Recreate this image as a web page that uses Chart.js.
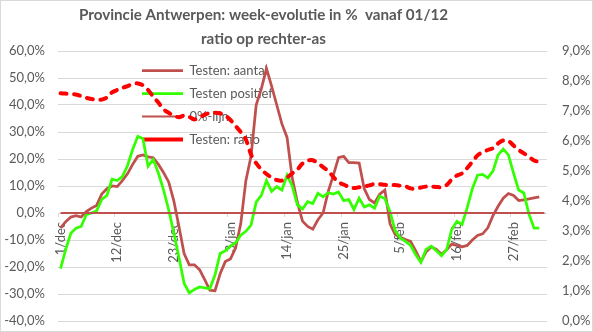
<!DOCTYPE html>
<html>
<head>
<meta charset="utf-8">
<script src="https://cdn.jsdelivr.net/npm/chart.js@4.4.1/dist/chart.umd.min.js"></script>
<style>
html,body{margin:0;padding:0;background:#ffffff;}
</style>
</head>
<body>
<canvas id="c" width="593" height="332"></canvas>
<script>
const titleLines = ["Provincie Antwerpen: week-evolutie in %  vanaf 01/12", "ratio op rechter-as"];
const seriesNames = ["Testen: aantal", "Testen positief", "0%-lijn", "Testen: ratio"];

const categories = [
"1/dec","2/dec","3/dec","4/dec","5/dec","6/dec","7/dec","8/dec","9/dec","10/dec","11/dec","12/dec","13/dec","14/dec","15/dec","16/dec","17/dec","18/dec","19/dec","20/dec","21/dec","22/dec","23/dec","24/dec","25/dec","26/dec","27/dec","28/dec","29/dec","30/dec","31/dec",
"1/jan","2/jan","3/jan","4/jan","5/jan","6/jan","7/jan","8/jan","9/jan","10/jan","11/jan","12/jan","13/jan","14/jan","15/jan","16/jan","17/jan","18/jan","19/jan","20/jan","21/jan","22/jan","23/jan","24/jan","25/jan","26/jan","27/jan","28/jan","29/jan","30/jan","31/jan",
"1/feb","2/feb","3/feb","4/feb","5/feb","6/feb","7/feb","8/feb","9/feb","10/feb","11/feb","12/feb","13/feb","14/feb","15/feb","16/feb","17/feb","18/feb","19/feb","20/feb","21/feb","22/feb","23/feb","24/feb","25/feb","26/feb","27/feb","28/feb",
"1/mrt","2/mrt","3/mrt","4/mrt","5/mrt"
];
const labelEvery = 11;

// left axis, in %
const testenAantal = [
-5.5, -3.2, -1.5, -1, -1.5, 0.5, 1.8, 2.8, 7, 9, 10, 9.8, 12, 14.5, 18, 21, 21.5, 20.8, 20.5, 18, 15, 11.5, 4.5, -5,
-15, -19.2, -19.2, -21, -24.7, -28.6, -28.8, -22.5, -18, -17, -13, -4, 12, 21, 40, 46, 53.5, 47, 40, 33, 28, 13, 4, -3,
-5, -6, -2.5, 0, 8, 14, 20.5, 21, 18.7, 18.7, 18.5, 9, 5, 3.7, 7, 8.5, -4, -8, -9, -9.8, -10.5, -14, -18, -14.5,
-12.5, -13.5, -15.3, -13.6, -11.5, -12, -12.5, -12, -10, -8.3, -7.7, -5.5, -1, 2.5, 5.5, 7.2, 6.5, 4.6, 4.9, 5.2, 5.6, 6
];
const testenPositief = [
-20.6, -13.5, -7.5, -5.6, -5, -0.6, 0, 0.8, 5, 6.5, 12.5, 12, 13.5, 17.5, 23.5, 28.4, 27.5, 17.3, 19.8, 14.8, 8.6, 1.2, -7.4, -16.5,
-26, -29.6, -28.3, -27.4, -27.7, -28, -23, -15, -14, -12.3, -11, -8.2, -6.8, -4.5, 4, 6.5, 12, 8, 9.8, 8.5, 14, 10, 3, 1.5,
4.2, 3.5, 7.3, 6, 7.5, 7, 7.8, 4.6, 5, 1.3, 5.5, 2.2, 3, 1.8, 6.2, 5.4, 0.5, -6.5, -9.3, -10.5, -12, -15.5, -18.3, -13.5,
-12.3, -14, -15.8, -13.6, -6, -3.1, -4.2, 2, 9, 14, 14.3, 13, 15.5, 21.5, 23.7, 21.5, 14.8, 8.5, 7.4, -0.5, -5.6, -5.6
];
const nulLijn = [
0,0,0,0,0,0,0,0,0,0,0,0,0,0,0,0,0,0,0,0,0,0,0,0,0,0,0,0,0,0,0,
0,0,0,0,0,0,0,0,0,0,0,0,0,0,0,0,0,0,0,0,0,0,0,0,0,0,0,0,0,0,0,
0,0,0,0,0,0,0,0,0,0,0,0,0,0,0,0,0,0,0,0,0,0,0,0,0,0,0,0,
0,0,0,0,0
];
// right axis, in %
const testenRatio = [
7.59, 7.58, 7.57, 7.55, 7.5, 7.44, 7.4, 7.37, 7.38, 7.45, 7.62, 7.7, 7.77, 7.83, 7.9, 7.92, 7.86, 7.7, 7.48, 7.28, 7.06, 6.94, 6.85, 6.79,
6.85, 6.8, 6.72, 6.78, 6.88, 6.93, 6.94, 6.92, 6.85, 6.7, 6.5, 6.3, 6.05, 5.55, 5.26, 5.05, 4.9, 4.78, 4.7, 4.68, 4.78, 4.92, 5.05, 5.25,
5.35, 5.36, 5.26, 5.13, 5.0, 4.8, 4.62, 4.55, 4.47, 4.43, 4.46, 4.48, 4.52, 4.57, 4.56, 4.54, 4.53, 4.53, 4.51, 4.49, 4.42, 4.41, 4.45, 4.48,
4.48, 4.47, 4.46, 4.53, 4.72, 4.85, 4.92, 5.1, 5.31, 5.52, 5.63, 5.7, 5.76, 5.92, 6.02, 6.0, 5.85, 5.7, 5.59, 5.47, 5.35, 5.3
];
const leftAxis = { min: -40, max: 60, step: 10 };
const rightAxis = { min: 0, max: 9, step: 1 };

const TEXT = '#595959';
const GRID = '#D9D9D9';
const NONE = 'rgba(0,0,0,0)';
const FONT = 'Lato';
const fmt = v => Number(v).toFixed(1).replace('.', ',') + '%';

const placeBoxes = {
  id: 'placeBoxes',
  afterLayout(chart) {
    const t = chart.titleBlock;
    if (t) { t.left = 0; t.right = 527; t.width = 527; }
    const lg = chart.legend;
    if (lg) {
      const w = lg.width, h = lg.height;
      lg.left = 132; lg.top = 54; lg.right = 132 + w; lg.bottom = 54 + h;
    }
  }
};
const frame = {
  id: 'frame',
  afterDraw(chart) {
    const c = chart.ctx;
    c.save();
    c.strokeStyle = GRID; c.lineWidth = 1;
    c.strokeRect(0.5, 0.5, chart.width - 1, chart.height - 1);
    c.restore();
  }
};

new Chart(document.getElementById('c'), {
  type: 'line',
  data: {
    labels: categories,
    datasets: [
      { label: seriesNames[0], data: testenAantal, yAxisID: 'y', borderColor: '#C0504D', backgroundColor: '#C0504D', borderWidth: 2.75, pointRadius: 0, tension: 0, order: 4 },
      { label: seriesNames[1], data: testenPositief, yAxisID: 'y', borderColor: '#33FF00', backgroundColor: '#33FF00', borderWidth: 2.75, pointRadius: 0, tension: 0, order: 3 },
      { label: seriesNames[2], data: nulLijn, yAxisID: 'y', borderColor: '#C0504D', backgroundColor: '#C0504D', borderWidth: 2, pointRadius: 0, tension: 0, order: 2 },
      { label: seriesNames[3], data: testenRatio, yAxisID: 'y1', borderColor: '#FF0000', backgroundColor: '#FF0000', borderWidth: 4, borderDash: [6, 7.5], borderCapStyle: 'round', pointRadius: 0, tension: 0.3, order: 1 }
    ]
  },
  options: {
    responsive: false,
    animation: false,
    devicePixelRatio: 1,
    layout: { padding: { left: 0, right: 0, top: 0, bottom: 11 } },
    plugins: {
      title: {
        display: true, text: titleLines, color: TEXT,
        font: { family: FONT, size: 15.2, weight: 'bold', lineHeight: '24px' },
        padding: { top: 3, bottom: 0 }
      },
      legend: {
        position: 'chartArea', align: 'start',
        labels: {
          usePointStyle: true, pointStyle: 'line', pointStyleWidth: 41, boxHeight: 13,
          padding: 10, color: TEXT, font: { family: FONT, size: 13 },
          sort: (a, b) => a.datasetIndex - b.datasetIndex
        }
      },
      tooltip: { enabled: false }
    },
    scales: {
      x: {
        type: 'category', position: { y: 0 }, offset: true,
        grid: {
          display: true, drawOnChartArea: false, drawTicks: true, tickLength: 4, offset: true,
          color: NONE,
          tickColor: c => (c.index % labelEvery === 0 ? GRID : NONE)
        },
        border: { display: false },
        ticks: {
          autoSkip: false, minRotation: 90, maxRotation: 90, padding: 5, color: TEXT,
          font: { family: FONT, size: 13 },
          callback(v, i) { return i % labelEvery === 0 ? this.getLabelForValue(v) : ''; }
        }
      },
      y: {
        position: 'left', min: leftAxis.min, max: leftAxis.max,
        ticks: { stepSize: leftAxis.step, callback: fmt, padding: 0, color: TEXT, font: { family: FONT, size: 13 } },
        grid: { color: GRID, lineWidth: 1, drawTicks: true, tickLength: 13, tickColor: NONE },
        border: { display: false },
        afterFit(s) { s.width = 58; }
      },
      y1: {
        position: 'right', min: rightAxis.min, max: rightAxis.max,
        ticks: { stepSize: rightAxis.step, callback: fmt, padding: 0, color: TEXT, font: { family: FONT, size: 13 } },
        grid: { display: false, drawTicks: true, tickLength: 15 },
        border: { display: false },
        afterFit(s) { s.width = 46; }
      }
    }
  },
  plugins: [placeBoxes, frame]
});
</script>
</body>
</html>
